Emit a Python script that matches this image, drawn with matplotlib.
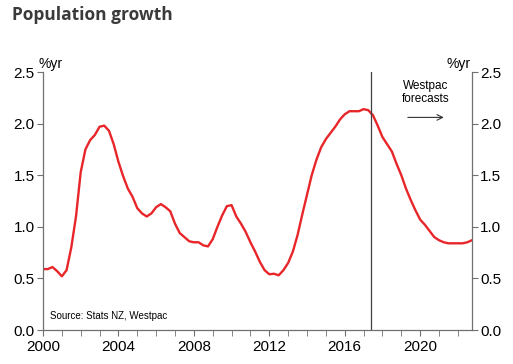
import matplotlib.pyplot as plt
import numpy as np

# Population growth, quarterly, %yr (Stats NZ + Westpac forecasts)
start_year = 2000.0
growth = [
    0.59, 0.59, 0.61, 0.57,   # 2000
    0.52, 0.58, 0.80, 1.10,   # 2001
    1.53, 1.75, 1.84, 1.89,   # 2002
    1.97, 1.98, 1.93, 1.80,   # 2003
    1.63, 1.49, 1.37, 1.29,   # 2004
    1.18, 1.13, 1.10, 1.13,   # 2005
    1.19, 1.22, 1.19, 1.15,   # 2006
    1.03, 0.94, 0.90, 0.86,   # 2007
    0.85, 0.85, 0.82, 0.81,   # 2008
    0.88, 1.00, 1.11, 1.20,   # 2009
    1.21, 1.10, 1.03, 0.95,   # 2010
    0.85, 0.76, 0.66, 0.58,   # 2011
    0.54, 0.545, 0.53, 0.58,  # 2012
    0.65, 0.76, 0.92, 1.12,   # 2013
    1.31, 1.50, 1.65, 1.77,   # 2014
    1.85, 1.91, 1.97, 2.04,   # 2015
    2.09, 2.12, 2.12, 2.12,   # 2016
    2.14, 2.13, 2.08, 1.98,   # 2017
    1.87, 1.80, 1.73, 1.61,   # 2018
    1.50, 1.37, 1.26, 1.16,   # 2019
    1.07, 1.02, 0.96, 0.90,   # 2020
    0.87, 0.85, 0.84, 0.84,   # 2021
    0.84, 0.84, 0.85, 0.87,   # 2022
]
years = start_year + 0.25 * np.arange(len(growth))
forecast_start = 2017.37
x_ticks = [2000, 2004, 2008, 2012, 2016, 2020]
y_ticks = [0.0, 0.5, 1.0, 1.5, 2.0, 2.5]

plt.rcParams['font.family'] = ['Liberation Sans', 'DejaVu Sans']

fig = plt.figure(figsize=(5.13, 3.64), dpi=100)
ax = fig.add_axes([43 / 513, 1 - 330 / 364, (472 - 43) / 513, (330 - 72) / 364])

ax.plot(years, growth, color='#e8262a', lw=1.7)
ax.axvline(forecast_start, color='#404040', lw=0.9)

ax.set_xlim(2000, 2022.75)
ax.set_ylim(0, 2.5)
ax.set_xticks(x_ticks)
ax.set_xticks(np.arange(2000, 2023), minor=True)
ax.set_xticklabels([str(y) for y in x_ticks])
ax.set_yticks(y_ticks)
ax.set_yticklabels([f'{v:.1f}' for v in y_ticks])

for s in ['left', 'right', 'bottom']:
    ax.spines[s].set_color('#707070')
    ax.spines[s].set_linewidth(0.9)
ax.spines['top'].set_visible(False)

ax.tick_params(axis='y', which='both', direction='out', length=4, color='#707070',
               labelsize=11, left=True, right=True, labelleft=True, labelright=True, pad=2)
ax.tick_params(axis='x', which='both', direction='out', length=4, color='#707070',
               labelsize=11, pad=3)

ax.text(-0.01, 1.005, '%yr', transform=ax.transAxes, fontsize=10, ha='left', va='bottom')
ax.text(0.997, 1.005, '%yr', transform=ax.transAxes, fontsize=10, ha='right', va='bottom')

ax.text(2020.27, 2.3, 'Westpac\nforecasts', fontsize=8.5, ha='center', va='center',
        linespacing=1.15)
ax.annotate('', xy=(2021.4, 2.06), xytext=(2019.2, 2.06),
            arrowprops=dict(arrowstyle='->', color='#333333', lw=0.8))

ax.text(2000.37, 0.14, 'Source: Stats NZ, Westpac', fontsize=7, ha='left', va='center')

fig.text(12 / 513, 1 - 15 / 364, 'Population growth', fontsize=12.5, fontweight='bold',
         family=['Open Sans', 'DejaVu Sans'], color='#3a3a3a', ha='left', va='center')

fig.savefig('out.png', dpi=100)
